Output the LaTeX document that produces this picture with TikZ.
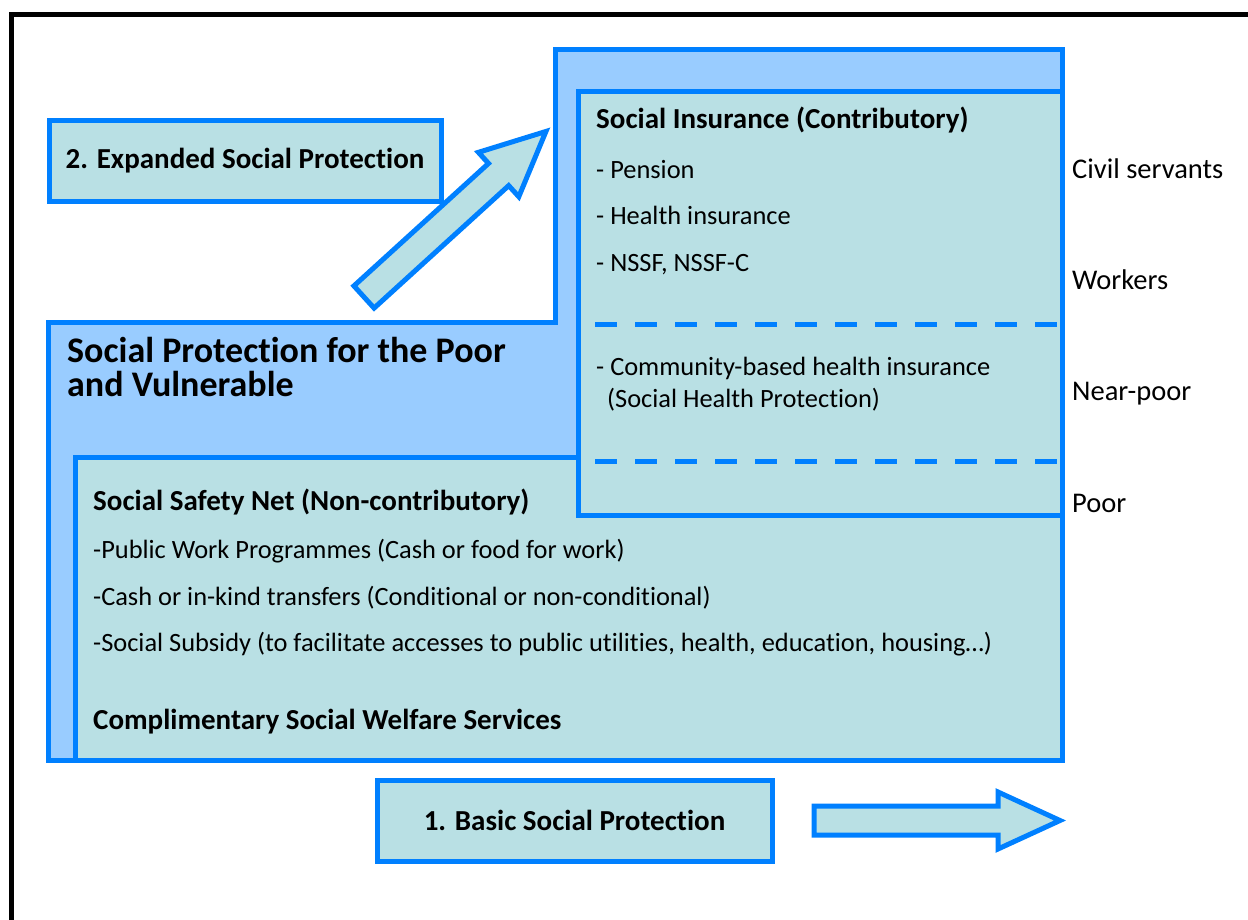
\documentclass[tikz,border=0pt]{standalone}
\usepackage{fontspec}
\setmainfont[Ligatures=NoCommon]{Carlito}
\usepackage{tikz}

\definecolor{spblue}{RGB}{0,128,255}
\definecolor{splight}{RGB}{153,204,255}
\definecolor{spteal}{RGB}{185,224,228}

\tikzset{
  lightbox/.style={draw=spblue,fill=splight,line width=5pt},
  tealbox/.style={draw=spblue,fill=spteal,line width=5pt},
  divider/.style={draw=spblue,line width=5pt,dash pattern=on 22pt off 18pt},
  txt/.style={anchor=base west,inner sep=0pt,font=\fontsize{26.4}{30}\selectfont},
  side/.style={anchor=base west,inner sep=0pt,font=\fontsize{28.5}{32}\selectfont},
  btxt/.style={anchor=base west,inner sep=0pt,font=\fontsize{29}{33}\selectfont\bfseries},
  ttxt/.style={anchor=base west,inner sep=0pt,font=\fontsize{36}{40}\selectfont\bfseries},
  label/.style={tealbox,inner sep=0pt,font=\fontsize{29}{33}\selectfont\bfseries}
}

\begin{document}
\begin{tikzpicture}[x=1pt,y=-1pt]
    \useasboundingbox (0,0) rectangle (1248,920);
    %
    \draw[line width=5pt] (11,920) -- (11,14.5) -- (1248,14.5);
    %
    \draw[lightbox] (555,50) -- (1062,50) -- (1062,760) -- (48,760) -- (48,322) -- (555,322) -- cycle;
    \draw[tealbox] (75,457) rectangle (1062,760);
    \draw[tealbox] (578,92) rectangle (1062,515);
    \draw[divider] (595,324) -- (1062,324);
    \draw[divider] (595,461) -- (1062,461);
    %
    \node[ttxt] (poor1) at (67,362) {Social Protection for the Poor};
    \node[ttxt] (poor2) at (67,396) {and Vulnerable};

    \node[btxt] (insur) at (596,129) {Social Insurance (Contributory)};
    \node[txt] (pension) at (596,179) {- Pension};
    \node[txt] (health) at (596,225) {- Health insurance};
    \node[txt] (nssf) at (596,272) {- NSSF, NSSF-C};
    \node[txt] (cbhi) at (596,375) {- Community-based health insurance};
    \node[txt] (shp) at (607,407) {(Social Health Protection)};

    \node[btxt] (safety) at (93,510) {Social Safety Net (Non-contributory)};
    \node[txt] (works) at (93,558) {-Public Work Programmes (Cash or food for work)};
    \node[txt] (cash) at (93,605) {-Cash or in-kind transfers (Conditional or non-conditional)};
    \node[txt] (subsidy) at (93,651) {-Social Subsidy (to facilitate accesses to public utilities, health, education, housing\dots)};
    \node[btxt] (welfare) at (93,729) {Complimentary Social Welfare Services};
    %
    \node[side] (civil) at (1072,179) {Civil servants};
    \node[side] (workers) at (1072,289) {Workers};
    \node[side] (nearpoor) at (1072,400) {Near-poor};
    \node[side] (poor) at (1072,512) {Poor};
    %
    \node[label,minimum width=392pt,minimum height=81pt] (expanded) at (245,161) {2. Expanded Social Protection};
    \node[label,minimum width=395pt,minimum height=81pt] (basic) at (574.5,820.5) {1. Basic Social Protection};
    %
    \begin{scope}[shift={(364,297)},rotate=42.3]
    \draw[tealbox] (0,-15) -- (182,-15) -- (182,-30) -- (246,0) -- (182,30) -- (182,15) -- (0,15) -- cycle;
    \end{scope}
    \draw[tealbox] (814,806) -- (998,806) -- (998,792) -- (1060,820.5) -- (998,849) -- (998,835) -- (814,835) -- cycle;
    %
\end{tikzpicture}
\end{document}
